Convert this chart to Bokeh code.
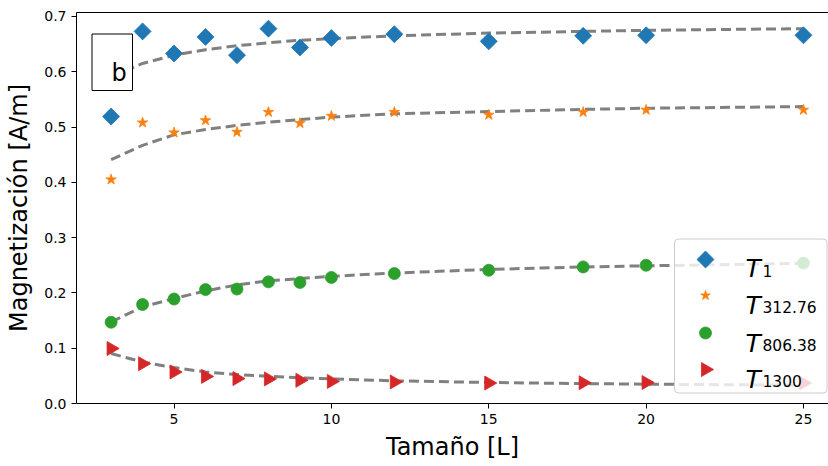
import numpy as np
from bokeh.plotting import figure
from bokeh.models import Range1d, FixedTicker, LinearAxis
from bokeh.core.properties import value
from bokeh.embed import file_html
from bokeh.resources import INLINE

# ---------------- data ----------------
L = [3, 4, 5, 6, 7, 8, 9, 10, 12, 15, 18, 20, 25]

m_T1 = [0.519, 0.673, 0.633, 0.663, 0.630, 0.678, 0.644, 0.661, 0.668, 0.655, 0.665, 0.666, 0.666]
m_T312 = [0.405, 0.508, 0.490, 0.512, 0.491, 0.527, 0.507, 0.520, 0.527, 0.522, 0.527, 0.531, 0.531]
m_T806 = [0.147, 0.179, 0.189, 0.206, 0.207, 0.220, 0.219, 0.228, 0.235, 0.241, 0.247, 0.250, 0.254]
m_T1300 = [0.0995, 0.072, 0.057, 0.049, 0.045, 0.0445, 0.042, 0.040, 0.039, 0.037, 0.0375, 0.038, 0.037]

fit_T1 = [0.590, 0.615, 0.630, 0.640, 0.647, 0.6525, 0.657, 0.660, 0.665, 0.670, 0.673, 0.675, 0.678]
fit_T312 = [0.441, 0.467, 0.486, 0.4955, 0.503, 0.509, 0.5135, 0.518, 0.524, 0.528, 0.532, 0.534, 0.537]
fit_T806 = [0.1476, 0.1747, 0.190, 0.2037, 0.2145, 0.2218, 0.226, 0.230, 0.236, 0.2425, 0.247, 0.249, 0.2535]
fit_T1300 = [0.0904, 0.075, 0.065, 0.057, 0.0524, 0.0494, 0.0463, 0.0445, 0.041, 0.038, 0.036, 0.035, 0.033]

series_sub = ["1", "312.76", "806.38", "1300"]
colors = ["#1f77b4", "#ff7f0e", "#2ca02c", "#d62728"]

x_ticks = [5, 10, 15, 20, 25]
y_ticks = [0.0, 0.1, 0.2, 0.3, 0.4, 0.5, 0.6, 0.7]
y_tick_labels = ["0.0", "0.1", "0.2", "0.3", "0.4", "0.5", "0.6", "0.7"]

x_label = "Tamaño [L]"
y_label = "Magnetización [A/m]"
panel_tag = "b"

# ---------------- layout ----------------
X0, X1 = 1.9, 25.796
Y0, Y1 = 0.0, 0.7072
FL, FW, FT, FH = 76, 752, 12, 391  # frame left, width, top, height (px)


def px2x(px):
    return X0 + (px - FL) / FW * (X1 - X0)


def py2y(py):
    return Y0 + (FT + FH - py) / FH * (Y1 - Y0)


FONT = "DejaVu Sans"

p = figure(width=828, height=466, output_backend="svg", toolbar_location=None,
           x_range=Range1d(X0, X1), y_range=Range1d(Y0, Y1),
           min_border_left=FL, min_border_right=0, min_border_top=FT,
           min_border_bottom=466 - FT - FH)
p.xgrid.visible = False
p.ygrid.visible = False
p.outline_line_color = None
p.background_fill_color = "white"
p.border_fill_color = "white"

for ax in (p.xaxis[0], p.yaxis[0]):
    ax.axis_line_color = "black"
    ax.axis_line_width = 1
    ax.major_tick_line_color = "black"
    ax.major_tick_out = 5
    ax.major_tick_in = 0
    ax.minor_tick_line_color = None
    ax.major_label_text_font = FONT
    ax.major_label_text_font_size = "14px"
    ax.major_label_text_color = "black"
    ax.axis_label_text_font = FONT
    ax.axis_label_text_font_size = "24px"
    ax.axis_label_text_font_style = "normal"
    ax.axis_label_text_color = "black"

p.xaxis.ticker = FixedTicker(ticks=x_ticks)
p.yaxis.ticker = FixedTicker(ticks=y_ticks)
p.yaxis.major_label_overrides = dict(zip(y_ticks, y_tick_labels))
p.xaxis.axis_label = x_label
p.yaxis.axis_label = y_label
p.xaxis.axis_label_standoff = 6
p.yaxis.axis_label_standoff = 8

top = LinearAxis(ticker=FixedTicker(ticks=[]), axis_line_color="black",
                 major_tick_line_color=None, minor_tick_line_color=None,
                 major_label_text_font_size="0px")
p.add_layout(top, "above")

# ---------------- data marks ----------------
series = [m_T1, m_T312, m_T806, m_T1300]
fits = [fit_T1, fit_T312, fit_T806, fit_T1300]
markers = [("square", np.pi / 4, 12), ("star", 0, 11), ("circle", 0, 12), ("triangle", -np.pi / 2, 14)]

for fy in fits:
    p.line(L, fy, line_color="#808080", line_width=3, line_dash="10 5")

for ys, c, (mk, ang, sz) in zip(series, colors, markers):
    p.scatter(L, ys, marker=mk, angle=ang, size=sz, fill_color=c, line_color=c, line_width=0.8)

# ---------------- panel tag ----------------
p.quad(left=[px2x(91.5)], right=[px2x(132)], top=[py2y(33.5)], bottom=[py2y(90)],
       fill_color="white", fill_alpha=1.0, line_color="black", line_width=1, level="overlay")
p.text(x=[px2x(111)], y=[py2y(72)], text=[panel_tag], text_font=value(FONT),
       text_font_size="24px", text_baseline="alphabetic", text_align="left",
       text_color="black", level="overlay")

# ---------------- legend ----------------
p.quad(left=[px2x(674)], right=[px2x(826.5)], top=[py2y(238.5)], bottom=[py2y(392.5)],
       fill_color="white", fill_alpha=0.8, line_color="#cccccc", line_alpha=1.0,
       line_width=1, border_radius=4, level="overlay")
row_marker_y = [259, 295, 332.5, 369]
row_base_y = [268, 304.5, 342.5, 378.5]
leg_sizes = [12, 10, 12, 14]
for i, (c, (mk, ang, sz)) in enumerate(zip(colors, markers)):
    p.scatter([px2x(705)], [py2y(row_marker_y[i])], marker=mk, angle=ang,
              size=leg_sizes[i], fill_color=c, line_color=c, line_width=0.8, level="overlay")
    p.text(x=[px2x(745)], y=[py2y(row_base_y[i])], text=["T"], text_font=value(FONT),
           text_font_style="italic", text_font_size="25px", text_baseline="alphabetic",
           text_color="black", level="overlay")
    p.text(x=[px2x(762)], y=[py2y(row_base_y[i] + 2)], text=[series_sub[i]], text_font=value(FONT),
           text_font_size="15.5px", text_baseline="alphabetic",
           text_color="black", level="overlay")

open("out.html", "w").write(file_html(p, INLINE))
